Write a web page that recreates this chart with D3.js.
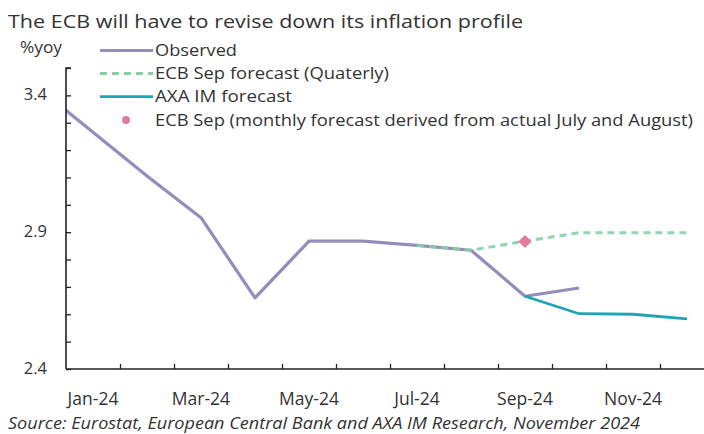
<!DOCTYPE html>
<html>
<head>
<meta charset="utf-8">
<script src="https://cdn.jsdelivr.net/npm/d3@7"></script>
<style>
  html, body { margin: 0; padding: 0; background: #fff; }
  svg { display: block; font-family: "Open Sans", Lato, sans-serif; }
</style>
</head>
<body>
<svg id="mySvg" width="704" height="434"></svg>
<script>
// month index: -1 = Dec-23, 0 = Jan-24 ... 11 = Dec-24
var observedMonths = [-1, 0, 1, 2, 3, 4, 5, 6, 7, 8, 9];
var observedValues = [3.425, 3.265, 3.105, 2.953, 2.66, 2.867, 2.867, 2.852, 2.834, 2.666, 2.696];

var ecbMonths = [6, 7, 8, 9, 10, 11];
var ecbValues = [2.852, 2.834, 2.867, 2.898, 2.898, 2.898];

var axaMonths = [8, 9, 10, 11];
var axaValues = [2.666, 2.602, 2.6, 2.583];

var ecbMonthlyMonth = [8];
var ecbMonthlyValue = [2.866];

var xLabels = ["Jan-24", "Mar-24", "May-24", "Jul-24", "Sep-24", "Nov-24"];
var xLabelMonths = [0, 2, 4, 6, 8, 10];
var yLabels = [2.4, 2.9, 3.4];

var legendNames = ["Observed", "ECB Sep forecast (Quaterly)", "AXA IM forecast",
  "ECB Sep (monthly forecast derived from actual July and August)"];

var colObserved = "#928dbb", colEcb = "#86cfa5", colAxa = "#1ba6b6", colDot = "#e27aa0";

var svg = d3.select("#mySvg");
var marginLeft = 66, plotTop = 68, plotBottom = 369, step = 54;

var x = d3.scaleLinear().domain([0, 12]).range([marginLeft, marginLeft + 12 * step]);
var y = d3.scaleLinear().domain([2.4, 3.5]).range([plotBottom, plotTop]);
var xc = m => x(m + 0.5);

// title + unit
svg.append("text").attr("x", 8).attr("y", 27.5).attr("font-size", 19).attr("fill", "#333")
  .attr("textLength", 515).attr("lengthAdjust", "spacingAndGlyphs")
  .text("The ECB will have to revise down its inflation profile");
svg.append("text").attr("x", 20).attr("y", 53).attr("font-size", 15.5).attr("fill", "#333")
  .attr("textLength", 42).attr("lengthAdjust", "spacingAndGlyphs")
  .text("%yoy");

// clip so the Dec-23 segment stops at the axis
svg.append("clipPath").attr("id", "plot").append("rect")
  .attr("x", marginLeft).attr("y", 0).attr("width", 704).attr("height", 434);

var g = svg.append("g").attr("clip-path", "url(#plot)");

var line = d3.line().x(d => xc(d[0])).y(d => y(d[1]));

g.append("path").attr("fill", "none").attr("stroke", colObserved).attr("stroke-width", 3.2)
  .attr("stroke-linejoin", "round")
  .attr("d", line(d3.zip(observedMonths, observedValues)));

g.append("path").attr("fill", "none").attr("stroke", colEcb).attr("stroke-width", 3)
  .attr("stroke-dasharray", "7,5").attr("opacity", 0.9)
  .attr("d", line(d3.zip(ecbMonths, ecbValues)));

g.append("path").attr("fill", "none").attr("stroke", colAxa).attr("stroke-width", 2.8)
  .attr("d", line(d3.zip(axaMonths, axaValues)));

g.selectAll(".dia").data(d3.zip(ecbMonthlyMonth, ecbMonthlyValue)).join("path")
  .attr("d", d3.symbol(d3.symbolDiamond2, 110))
  .attr("transform", d => `translate(${xc(d[0])},${y(d[1])})`)
  .attr("fill", colDot);

// y axis with inside ticks every 0.1
var yAxis = d3.axisRight(y).tickValues(d3.range(24, 36).map(v => v / 10))
  .tickSize(5).tickFormat("");
svg.append("g").attr("transform", `translate(${marginLeft},0)`).call(yAxis)
  .call(a => a.select(".domain").attr("d", `M5,${plotTop}H0V${plotBottom}`).attr("stroke", "#222").attr("stroke-width", 1.6))
  .call(a => a.selectAll(".tick line").attr("stroke", "#222").attr("stroke-width", 1.3));

svg.selectAll(".ylab").data(yLabels).join("text")
  .attr("x", 47).attr("y", d => y(d) + 5).attr("text-anchor", "end")
  .attr("font-size", 16.5).attr("fill", "#333").text(d => d.toFixed(1));

// x axis with inside ticks at month boundaries
var xAxis = d3.axisTop(x).tickValues(d3.range(1, 13)).tickSize(5).tickFormat("");
svg.append("g").attr("transform", `translate(0,${plotBottom})`).call(xAxis)
  .call(a => a.select(".domain").attr("d", `M${marginLeft},0H${marginLeft + 12 * step}`).attr("stroke", "#222").attr("stroke-width", 1.6))
  .call(a => a.selectAll(".tick line").attr("stroke", "#222").attr("stroke-width", 1.3));

svg.selectAll(".xlab").data(xLabelMonths).join("text")
  .attr("x", d => xc(d)).attr("y", 405).attr("text-anchor", "middle")
  .attr("font-size", 17.5).attr("fill", "#333").text((d, i) => xLabels[i]);

// source
svg.append("text").attr("x", 8).attr("y", 429).attr("font-size", 16.5).attr("font-style", "italic")
  .attr("fill", "#333").attr("textLength", 632).attr("lengthAdjust", "spacingAndGlyphs")
  .text("Source: Eurostat, European Central Bank and AXA IM Research, November 2024");

// legend
var lg = svg.append("g");
var ly = [50.5, 73.5, 96.7, 120];
lg.append("line").attr("x1", 100).attr("x2", 153).attr("y1", ly[0]).attr("y2", ly[0])
  .attr("stroke", colObserved).attr("stroke-width", 3.2);
lg.append("line").attr("x1", 100).attr("x2", 153).attr("y1", ly[1]).attr("y2", ly[1])
  .attr("stroke", colEcb).attr("stroke-width", 3).attr("stroke-dasharray", "7,5");
lg.append("line").attr("x1", 100).attr("x2", 153).attr("y1", ly[2]).attr("y2", ly[2])
  .attr("stroke", colAxa).attr("stroke-width", 2.8);
lg.append("circle").attr("cx", 126).attr("cy", ly[3]).attr("r", 4).attr("fill", colDot);
var legendWidths = [82, 234, 137, 538];
lg.selectAll("text").data(legendNames).join("text")
  .attr("x", 155).attr("y", (d, i) => ly[i] + 5.5)
  .attr("font-size", 17).attr("fill", "#333")
  .attr("textLength", (d, i) => legendWidths[i]).attr("lengthAdjust", "spacingAndGlyphs")
  .text(d => d);
</script>
</body>
</html>
